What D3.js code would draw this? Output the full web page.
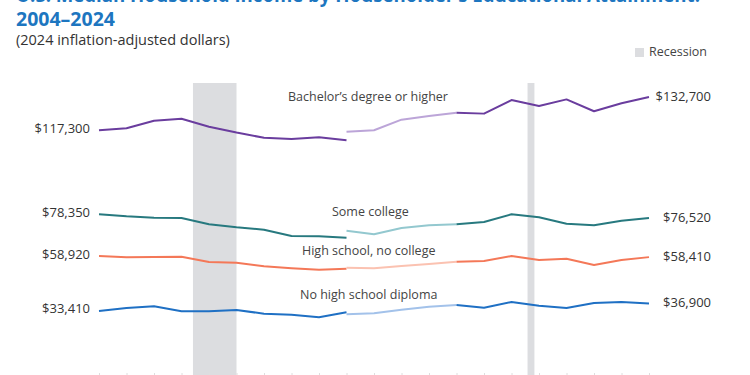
<!DOCTYPE html>
<html lang="en">
<head>
    <meta charset="UTF-8">
    <title>Median Household Income by Educational Attainment | D3</title>
    <style>
        body { margin: 0; background: #fff; }
        text { font-family: "Open Sans", sans-serif; }
    </style>
</head>
<body>
    <div class="graph-container"></div>

    <script type="text/javascript" src="https://d3js.org/d3.v7.min.js"></script>
    <script type="text/javascript">
        var canvasWidth = 750;
        var canvasHeight = 375;

        // Years for each piece of the series (2013 and 2017 have two estimates).
        var yearsOld = [2004, 2005, 2006, 2007, 2008, 2009, 2010, 2011, 2012, 2013];
        var yearsMid = [2013, 2014, 2015, 2016, 2017];
        var yearsNew = [2017, 2018, 2019, 2020, 2021, 2022, 2023, 2024];
        var allYears = [2004, 2005, 2006, 2007, 2008, 2009, 2010, 2011, 2012, 2013, 2014,
                        2015, 2016, 2017, 2018, 2019, 2020, 2021, 2022, 2023, 2024];

        var bachelorOld = [117300, 118200, 121700, 122600, 118900, 116200, 113800, 113200, 114000, 112600];
        var bachelorMid = [116600, 117300, 122200, 123900, 125400];
        var bachelorNew = [125400, 125000, 131300, 128500, 131600, 126100, 129800, 132700];

        var collegeOld = [78350, 77350, 76700, 76570, 73640, 72250, 71150, 68210, 68070, 67420];
        var collegeMid = [70670, 69000, 71930, 73180, 73640];
        var collegeNew = [73640, 74710, 78280, 76890, 73920, 73180, 75310, 76520];

        var highSchoolOld = [58920, 58330, 58470, 58600, 56150, 55820, 54150, 53220, 52570, 53040];
        var highSchoolMid = [53500, 53220, 54290, 55220, 56290];
        var highSchoolNew = [56290, 56610, 58930, 57080, 57680, 54750, 57080, 58410];

        var noDiplomaOld = [33410, 34800, 35590, 33270, 33270, 33870, 32160, 31690, 30490, 32810];
        var noDiplomaMid = [31880, 32340, 34010, 35410, 36190];
        var noDiplomaNew = [36190, 34940, 37590, 35870, 34800, 37120, 37590, 36900];

        var seriesNames = ["Bachelor\u2019s degree or higher", "Some college",
                           "High school, no college", "No high school diploma"];
        var startLabels = ["$117,300", "$78,350", "$58,920", "$33,410"];
        var endLabels = ["$132,700", "$76,520", "$58,410", "$36,900"];

        // Recessions as calendar months (start, end).
        var recessions = [["2007-12", "2009-06"], ["2020-02", "2020-04"]];

        var darkColors = ["#6a3d9e", "#27797f", "#f47858", "#1f70c4"];
        var lightColors = ["#bca5d8", "#93c8cf", "#fbc2b1", "#a3c2ea"];

        var series = [
            [bachelorOld, bachelorMid, bachelorNew],
            [collegeOld, collegeMid, collegeNew],
            [highSchoolOld, highSchoolMid, highSchoolNew],
            [noDiplomaOld, noDiplomaMid, noDiplomaNew]
        ];

        var x = d3.scaleLinear().domain([2004, 2024]).range([99, 649]);
        var y = d3.scaleLinear().domain([0, 140000]).range([383, 81.3]);

        var svg = d3.select(".graph-container")
            .append("svg")
            .attr("width", canvasWidth)
            .attr("height", canvasHeight);

        // Points sit in the middle of each year, so shift calendar dates by half a year.
        function monthToYear(s, endOfMonth) {
            var parts = s.split("-");
            return +parts[0] + (+parts[1] - (endOfMonth ? 0 : 1)) / 12 - 0.5;
        }

        svg.append("g").attr("class", "recessions")
            .selectAll("rect")
            .data(recessions)
            .enter()
                .append("rect")
                .attr("x", function(d) { return x(monthToYear(d[0], false)); })
                .attr("width", function(d) {
                    return x(monthToYear(d[1], true)) - x(monthToYear(d[0], false));
                })
                .attr("y", 83)
                .attr("height", canvasHeight)
                .attr("fill", "#dcdde0");

        // Year ticks just peeking in at the bottom.
        svg.append("g")
            .attr("transform", "translate(0,373)")
            .call(d3.axisBottom(x).tickValues(allYears).tickSize(3).tickFormat(""))
            .call(function(g) {
                g.select(".domain").remove();
                g.selectAll(".tick line").attr("stroke", "#dedede");
            });

        var line = d3.line()
            .x(function(d) { return x(d[0]); })
            .y(function(d) { return y(d[1]); });

        var lines = svg.append("g").attr("class", "lines");
        var yearSets = [yearsOld, yearsMid, yearsNew];

        series.forEach(function(parts, i) {
            parts.forEach(function(vals, j) {
                var pts = vals.map(function(v, k) { return [yearSets[j][k], v]; });
                lines.append("path")
                    .datum(pts)
                    .attr("fill", "none")
                    .attr("stroke", j === 1 ? lightColors[i] : darkColors[i])
                    .attr("stroke-width", 2)
                    .attr("stroke-linejoin", "round")
                    .attr("d", line);
            });
        });

        // Start and end value labels.
        var labels = svg.append("g").attr("font-size", 13).attr("fill", "#333");
        series.forEach(function(parts, i) {
            labels.append("text")
                .attr("x", 90)
                .attr("y", y(parts[0][0]) - 1)
                .attr("text-anchor", "end")
                .attr("dominant-baseline", "middle")
                .text(startLabels[i]);
            var last = parts[2][parts[2].length - 1];
            labels.append("text")
                .attr("x", 711)
                .attr("y", y(last) + 0.5)
                .attr("text-anchor", "end")
                .attr("dominant-baseline", "middle")
                .text(endLabels[i]);
        });

        // Series names above each line.
        var namePos = [[288, 97.5], [332, 213], [302, 252], [300, 296]];
        svg.append("g").attr("font-size", 12.5).attr("fill", "#444")
            .selectAll("text")
            .data(seriesNames)
            .enter()
                .append("text")
                .attr("x", function(d, i) { return namePos[i][0]; })
                .attr("y", function(d, i) { return namePos[i][1]; })
                .attr("dominant-baseline", "middle")
                .text(function(d) { return d; });

        // Title block (top is cut off in the original).
        svg.append("text")
            .attr("x", 16).attr("y", 2)
            .attr("font-size", 19).attr("font-weight", "bold").attr("fill", "#1d76c0")
            .attr("textLength", 684).attr("lengthAdjust", "spacingAndGlyphs")
            .text("U.S. Median Household Income by Householder\u2019s Educational Attainment:");
        svg.append("text")
            .attr("x", 16).attr("y", 26)
            .attr("font-size", 19.5).attr("font-weight", "bold").attr("fill", "#1d76c0")
            .text("2004\u20132024");
        svg.append("text")
            .attr("x", 16).attr("y", 45)
            .attr("font-size", 14.5).attr("fill", "#333")
            .text("(2024 inflation-adjusted dollars)");

        // Legend
        svg.append("rect")
            .attr("x", 635).attr("y", 48).attr("width", 9).attr("height", 9)
            .attr("fill", "#dcdde0");
        svg.append("text")
            .attr("x", 649).attr("y", 53)
            .attr("font-size", 12.5).attr("fill", "#444")
            .attr("dominant-baseline", "middle")
            .text("Recession");
    </script>
</body>
</html>
